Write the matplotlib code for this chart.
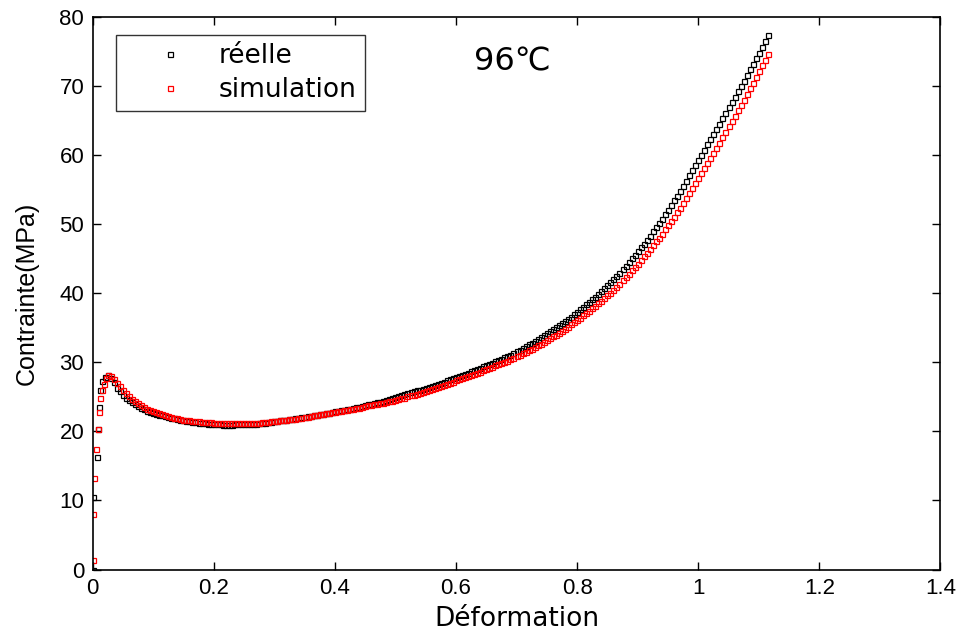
import matplotlib
matplotlib.use("Agg")
import matplotlib.pyplot as plt

plt.rcParams['font.family'] = ['Liberation Sans', 'DejaVu Sans', 'Noto Sans CJK SC']
WIDE = ['DejaVu Sans', 'Noto Sans CJK SC']

# ---------------- data ----------------
# initial loading branch (strain, stress)
reel_start_x = [0.000, 0.000, 0.007, 0.009, 0.010, 0.012, 0.015, 0.021, 0.026]
reel_start_y = [0.0, 10.5, 16.3, 20.3, 23.6, 26.0, 27.3, 27.9, 28.1]

sim_start_x = [0.000, 0.000, 0.003, 0.006, 0.009, 0.010, 0.013, 0.016, 0.019, 0.022, 0.026]
sim_start_y = [1.4, 8.1, 13.3, 17.5, 20.4, 22.8, 24.8, 26.0, 26.9, 27.7, 28.1]

# common strain samples after the yield peak
strain = [
    0.030, 0.035, 0.040, 0.045, 0.050, 0.055, 0.060, 0.065, 0.070, 0.075,
    0.080, 0.085, 0.090, 0.095, 0.100, 0.105, 0.110, 0.115, 0.120, 0.125,
    0.130, 0.135, 0.140, 0.145, 0.150, 0.155, 0.160, 0.165, 0.170, 0.175,
    0.180, 0.185, 0.190, 0.195, 0.200, 0.205, 0.210, 0.215, 0.220, 0.225,
    0.230, 0.235, 0.240, 0.245, 0.250, 0.255, 0.260, 0.265, 0.270, 0.275,
    0.280, 0.285, 0.290, 0.295, 0.300, 0.305, 0.310, 0.315, 0.320, 0.325,
    0.330, 0.335, 0.340, 0.345, 0.350, 0.355, 0.360, 0.365, 0.370, 0.375,
    0.380, 0.385, 0.390, 0.395, 0.400, 0.405, 0.410, 0.415, 0.420, 0.425,
    0.430, 0.435, 0.440, 0.445, 0.450, 0.455, 0.460, 0.465, 0.470, 0.475,
    0.480, 0.485, 0.490, 0.495, 0.500, 0.505, 0.510, 0.515, 0.520, 0.525,
    0.530, 0.535, 0.540, 0.545, 0.550, 0.555, 0.560, 0.565, 0.570, 0.575,
    0.580, 0.585, 0.590, 0.595, 0.600, 0.605, 0.610, 0.615, 0.620, 0.625,
    0.630, 0.635, 0.640, 0.645, 0.650, 0.655, 0.660, 0.665, 0.670, 0.675,
    0.680, 0.685, 0.690, 0.695, 0.700, 0.705, 0.710, 0.715, 0.720, 0.725,
    0.730, 0.735, 0.740, 0.745, 0.750, 0.755, 0.760, 0.765, 0.770, 0.775,
    0.780, 0.785, 0.790, 0.795, 0.800, 0.805, 0.810, 0.815, 0.820, 0.825,
    0.830, 0.835, 0.840, 0.845, 0.850, 0.855, 0.860, 0.865, 0.870, 0.875,
    0.880, 0.885, 0.890, 0.895, 0.900, 0.905, 0.910, 0.915, 0.920, 0.925,
    0.930, 0.935, 0.940, 0.945, 0.950, 0.955, 0.960, 0.965, 0.970, 0.975,
    0.980, 0.985, 0.990, 0.995, 1.000, 1.005, 1.010, 1.015, 1.020, 1.025,
    1.030, 1.035, 1.040, 1.045, 1.050, 1.055, 1.060, 1.065, 1.070, 1.075,
    1.080, 1.085, 1.090, 1.095, 1.100, 1.105, 1.110, 1.115,
]

reel_stress = [
    27.8, 27.1, 26.3, 25.8, 25.3, 24.9, 24.5, 24.2, 23.9, 23.65,
    23.4, 23.2, 23.0, 22.85, 22.7, 22.55, 22.4, 22.3, 22.2, 22.1,
    22.0, 21.9, 21.8, 21.7, 21.6, 21.55, 21.5, 21.4, 21.3, 21.25,
    21.2, 21.15, 21.1, 21.05, 21.0, 21.0, 21.0, 20.95, 20.95, 20.95,
    20.95, 21.0, 21.0, 21.0, 21.0, 21.0, 21.05, 21.05, 21.1, 21.15,
    21.2, 21.25, 21.3, 21.4, 21.5, 21.55, 21.6, 21.65, 21.7, 21.75,
    21.8, 21.9, 21.95, 22.05, 22.1, 22.2, 22.25, 22.3, 22.4, 22.5,
    22.55, 22.6, 22.7, 22.8, 22.9, 22.95, 23.05, 23.15, 23.2, 23.3,
    23.4, 23.5, 23.6, 23.7, 23.8, 23.9, 24.0, 24.1, 24.2, 24.3,
    24.4, 24.55, 24.7, 24.85, 25.0, 25.15, 25.3, 25.4, 25.55, 25.7,
    25.8, 25.95, 26.05, 26.2, 26.3, 26.45, 26.6, 26.75, 26.9, 27.05,
    27.2, 27.4, 27.55, 27.7, 27.9, 28.05, 28.2, 28.35, 28.5, 28.7,
    28.85, 29.0, 29.2, 29.4, 29.6, 29.8, 29.95, 30.15, 30.3, 30.5,
    30.7, 30.9, 31.1, 31.35, 31.6, 31.85, 32.1, 32.35, 32.6, 32.85,
    33.1, 33.35, 33.6, 33.9, 34.2, 34.5, 34.8, 35.05, 35.35, 35.65,
    35.95, 36.3, 36.6, 36.95, 37.3, 37.65, 38.0, 38.4, 38.75, 39.1,
    39.5, 39.9, 40.3, 40.7, 41.15, 41.6, 42.05, 42.5, 43.0, 43.5,
    44.0, 44.5, 45.05, 45.55, 46.1, 46.65, 47.2, 47.75, 48.35, 48.95,
    49.55, 50.15, 50.8, 51.45, 52.1, 52.75, 53.45, 54.15, 54.85, 55.55,
    56.3, 57.05, 57.8, 58.55, 59.3, 60.05, 60.8, 61.55, 62.3, 63.05,
    63.8, 64.55, 65.35, 66.1, 66.9, 67.7, 68.45, 69.25, 70.0, 70.8,
    71.6, 72.4, 73.2, 74.0, 74.85, 75.7, 76.5, 77.4,
]

sim_stress = [
    28.0, 27.6, 27.0, 26.5, 26.0, 25.5, 25.1, 24.7, 24.4, 24.1,
    23.8, 23.55, 23.3, 23.1, 22.9, 22.75, 22.6, 22.45, 22.3, 22.2,
    22.1, 22.0, 21.9, 21.8, 21.7, 21.65, 21.6, 21.55, 21.5, 21.45,
    21.4, 21.35, 21.3, 21.3, 21.25, 21.2, 21.2, 21.2, 21.2, 21.2,
    21.2, 21.2, 21.2, 21.2, 21.2, 21.2, 21.2, 21.2, 21.25, 21.25,
    21.3, 21.35, 21.4, 21.45, 21.5, 21.55, 21.6, 21.65, 21.7, 21.75,
    21.8, 21.85, 21.9, 22.0, 22.05, 22.15, 22.2, 22.3, 22.35, 22.45,
    22.5, 22.6, 22.65, 22.75, 22.8, 22.9, 23.0, 23.05, 23.1, 23.2,
    23.3, 23.4, 23.45, 23.55, 23.65, 23.75, 23.8, 23.9, 24.0, 24.05,
    24.1, 24.25, 24.35, 24.45, 24.55, 24.7, 24.8, 24.9, 25.05, 25.2,
    25.3, 25.45, 25.55, 25.7, 25.8, 25.95, 26.1, 26.25, 26.4, 26.55,
    26.7, 26.9, 27.05, 27.2, 27.4, 27.55, 27.7, 27.85, 28.0, 28.2,
    28.35, 28.5, 28.65, 28.85, 29.05, 29.2, 29.35, 29.55, 29.7, 29.85,
    30.05, 30.25, 30.45, 30.65, 30.9, 31.1, 31.35, 31.55, 31.8, 32.0,
    32.2, 32.45, 32.7, 32.95, 33.25, 33.5, 33.75, 34.0, 34.3, 34.55,
    34.85, 35.15, 35.5, 35.8, 36.15, 36.45, 36.8, 37.15, 37.5, 37.8,
    38.2, 38.55, 38.95, 39.3, 39.7, 40.1, 40.5, 40.95, 41.4, 41.9,
    42.3, 42.8, 43.3, 43.8, 44.3, 44.8, 45.35, 45.85, 46.4, 46.95,
    47.5, 48.05, 48.65, 49.25, 49.85, 50.45, 51.1, 51.75, 52.4, 53.1,
    53.8, 54.5, 55.25, 55.95, 56.7, 57.4, 58.15, 58.85, 59.6, 60.35,
    61.05, 61.8, 62.6, 63.35, 64.15, 64.95, 65.7, 66.5, 67.25, 68.05,
    68.9, 69.7, 70.5, 71.3, 72.15, 73.0, 73.8, 74.7,
]

series_labels = ['réelle', 'simulation']
series_colors = ['black', 'red']

xticks = [0, 0.2, 0.4, 0.6, 0.8, 1.0, 1.2, 1.4]
xtick_labels = ['0', '0.2', '0.4', '0.6', '0.8', '1', '1.2', '1.4']
yticks = [0, 10, 20, 30, 40, 50, 60, 70, 80]

annotation = '96℃'
x_label = 'Déformation'
y_label = 'Contrainte(MPa)'

# ---------------- figure ----------------
fig = plt.figure(figsize=(9.61, 6.34), dpi=100)
ax = fig.add_axes([92.5 / 961, (634 - 569.5) / 634, 848 / 961, 552.5 / 634])

reel_x = reel_start_x + strain
reel_y = reel_start_y + reel_stress
sim_x = sim_start_x + strain
sim_y = sim_start_y + sim_stress

mk = dict(linestyle='none', marker='s', markersize=3.6, markerfacecolor='none',
          markeredgewidth=0.9)
ax.plot(reel_x, reel_y, color=series_colors[0], markeredgecolor=series_colors[0],
        label=series_labels[0], **mk)
ax.plot(sim_x, sim_y, color=series_colors[1], markeredgecolor=series_colors[1],
        label=series_labels[1], **mk)

ax.set_xlim(0, 1.4)
ax.set_ylim(0, 80)
ax.set_xticks(xticks)
ax.set_xticklabels(xtick_labels)
ax.set_yticks(yticks)
ax.tick_params(direction='in', top=True, right=True, length=6, width=1,
               labelsize=16, pad=6)
for s in ax.spines.values():
    s.set_linewidth(1.2)

ax.set_xlabel(x_label, fontsize=19, labelpad=5, family=WIDE)
ax.set_ylabel(y_label, fontsize=18, labelpad=15)

ax.text(0.63, 73.5, annotation, fontsize=23, ha='left', va='center', family=WIDE)

leg = ax.legend(loc='upper left', bbox_to_anchor=(0.0277, 0.967),
                borderaxespad=0, prop={'family': WIDE, 'size': 19},
                frameon=True, fancybox=False,
                edgecolor='black', numpoints=1, handlelength=3.5,
                handletextpad=0.1, borderpad=0.3, labelspacing=0.3,
                markerscale=1.0)
leg.get_frame().set_linewidth(1.0)

fig.savefig('out.png', dpi=100)
